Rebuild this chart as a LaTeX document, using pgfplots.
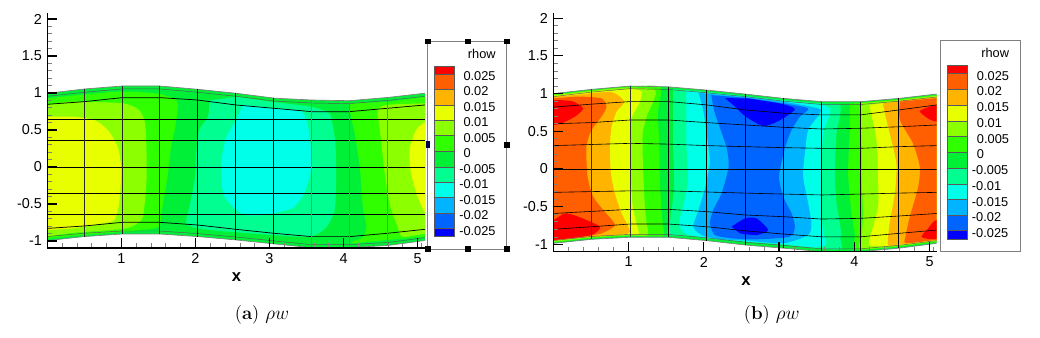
\documentclass[border=0pt]{standalone}
\usepackage{fontspec}
\setsansfont{Liberation Sans}
\usepackage{pgfplots}
\pgfplotsset{compat=1.18}
\definecolor{c1}{HTML}{FF0000}
\definecolor{c2}{HTML}{FF5F00}
\definecolor{c3}{HTML}{FFB400}
\definecolor{c4}{HTML}{E8FF00}
\definecolor{c5}{HTML}{8CFF00}
\definecolor{c6}{HTML}{30FF00}
\definecolor{c7}{HTML}{00F038}
\definecolor{c8}{HTML}{00FF90}
\definecolor{c9}{HTML}{00FFE8}
\definecolor{c10}{HTML}{00B4FF}
\definecolor{c11}{HTML}{0064FF}
\definecolor{c12}{HTML}{0000FF}
\pgfplotsset{
  band/.style={fill=#1,draw=none,smooth,tension=0.4,forget plot},
  mask/.style={fill=white,draw=none,forget plot},
  hline/.style={black,line width=0.55pt,forget plot},
  rim/.style={black!65,line width=0.35pt,forget plot},
  wall/.style={gray,line width=0.5pt,forget plot},
  panel/.style={
    scale only axis,axis on top,anchor=south west,clip=true,
    axis x line*=bottom,axis y line*=left,axis line style={-,line width=1.2pt},
    tick align=inside,major tick length=7.5pt,minor tick length=3.75pt,
    major tick style={black,line width=0.9pt},
    minor tick style={gray,line width=0.5pt},
    xtick={1,2,3,4,5},xticklabels={1,2,3,4,5},
    ytick={-1,-0.5,0,0.5,1,1.5,2},yticklabels={-1,-0.5,0,0.5,1,1.5,2},
    minor xtick={0.2,0.4,0.6,0.8,1.2,1.4,1.6,1.8,2.2,2.4,2.6,2.8,3.2,3.4,3.6,3.8,4.2,4.4,4.6,4.8,5.05},
    minor ytick={-0.9,-0.8,-0.7,-0.6,-0.4,-0.3,-0.2,-0.1,0.1,0.2,0.3,0.4,0.6,0.7,0.8,0.9,1.1,1.2,1.3,1.4,1.6,1.7,1.8,1.9},
    tick label style={font=\sffamily\fontsize{10.8pt}{12pt}\selectfont,black},
    xticklabel style={yshift=-0.5pt},
    yticklabel style={xshift=-0.5pt},
    xlabel={\fontsize{12.5pt}{14pt}\selectfont\sffamily\bfseries x},
  },
}
\begin{document}
\begin{tikzpicture}
\path (0,0) rectangle (780pt,253.5pt);
%% ---------------- panel (a)
\begin{axis}[panel,at={(35.475pt,67.275pt)},width=283.3pt,height=176.7pt,
  xmin=0,xmax=5.1,ymin=-1.0986,ymax=2.085,
  every axis x label/.style={at={(axis description cs:0.501,-0.122)},anchor=center}]
% base: the whole channel
\addplot[fill=c7,draw=none,forget plot] coordinates {(-0.2,0.996)(0,0.996)(0.5,1.054)(1.02,1.095)(1.51,1.095)(2.03,1.05)(2.55,0.996)(3.07,0.93)(3.57,0.905)(4.08,0.896)(4.6,0.94)(5.09,0.996)(5.4,0.996)(5.4,-0.995)(5.09,-0.995)(4.6,-1.06)(4.08,-1.09)(3.57,-1.09)(3.07,-1.04)(2.55,-0.986)(2.03,-0.94)(1.51,-0.905)(1.02,-0.905)(0.5,-0.94)(0,-0.995)(-0.2,-0.995)} --cycle;
% left 30FF00
\addplot[band=c6] coordinates {(-0.2,0.93)(0,0.93)(0.5,0.98)(1,1.02)(1.5,0.99)(1.74,0.906)(1.76,0.77)(1.72,0.5)(1.67,0.275)(1.63,-0.085)(1.54,-0.626)(1.51,-0.806)(1.3,-0.85)(1.02,-0.875)(0.34,-0.93)(0,-0.97)(-0.2,-0.98)} --cycle;
% left lime
\addplot[band=c5] coordinates {(-0.2,0.84)(0,0.84)(0.34,0.88)(1.02,0.86)(1.24,0.77)(1.32,0.59)(1.34,0.19)(1.34,-0.175)(1.31,-0.536)(1.27,-0.716)(1.06,-0.83)(0.34,-0.89)(0,-0.94)(-0.2,-0.96)} --cycle;
% left yellow
\addplot[band=c4] coordinates {(-0.2,0.68)(0,0.68)(0.34,0.68)(0.635,0.635)(0.815,0.5)(0.95,0.275)(1,-0.04)(0.97,-0.49)(0.906,-0.716)(0.75,-0.76)(0.34,-0.83)(0.03,-0.85)(-0.2,-0.85)} --cycle;
% centre spring
\addplot[band=c8] coordinates {(2.19,0.9)(2.17,0.68)(2.05,0.5)(2.01,0.19)(1.99,-0.175)(1.92,-0.536)(1.88,-0.76)(2.1,-0.84)(3.04,-0.92)(3.56,-0.94)(3.77,-0.81)(3.88,-0.58)(3.9,-0.175)(3.89,0.32)(3.83,0.68)(3.77,0.75)(3.56,0.815)(3.04,0.88)(2.55,0.95)} --cycle;
% centre cyan
\addplot[band=c9] coordinates {(2.64,0.84)(2.55,0.635)(2.42,0.41)(2.35,0.095)(2.35,-0.175)(2.39,-0.4)(2.55,-0.58)(2.68,-0.65)(2.91,-0.65)(3.3,-0.56)(3.47,-0.355)(3.56,-0.04)(3.56,0.23)(3.52,0.545)(3.43,0.75)(3.04,0.79)} --cycle;
% right 30FF00
\addplot[band=c6] coordinates {(4.08,0.86)(4.08,0.77)(4.15,0.455)(4.22,0)(4.26,-0.536)(4.31,-0.81)(4.26,-0.95)(4.1,-1.03)(4.6,-0.985)(5.12,-0.94)(5.4,-0.94)(5.4,0.95)(5.12,0.95)(4.6,0.88)} --cycle;
% right lime
\addplot[band=c5] coordinates {(5.4,0.86)(5.09,0.86)(4.6,0.84)(4.46,0.77)(4.49,0.5)(4.55,-0.04)(4.62,-0.49)(4.73,-0.81)(4.8,-0.94)(5.12,-0.9)(5.4,-0.9)} --cycle;
% right yellow
\addplot[band=c4] coordinates {(5.4,0.61)(5.12,0.61)(4.98,0.5)(4.89,0.23)(4.91,-0.085)(5,-0.4)(5.12,-0.63)(5.4,-0.63)} --cycle;
\addplot[wall] coordinates {(0,0.996)(0.5,1.054)(1.02,1.095)(1.51,1.095)(2.03,1.05)(2.55,0.996)(3.07,0.93)(3.57,0.905)(4.08,0.896)(4.6,0.94)(5.09,0.996)(5.1,0.996)};
\addplot[wall] coordinates {(0,-0.995)(0.5,-0.94)(1.02,-0.905)(1.51,-0.905)(2.03,-0.94)(2.55,-0.986)(3.07,-1.04)(3.57,-1.09)(4.08,-1.09)(4.6,-1.06)(5.09,-0.995)(5.1,-0.995)};
% mesh: along the channel
\addplot[rim] coordinates {(0,0.955)(0.5,1.01)(1.02,1.055)(1.51,1.055)(2.03,1.01)(2.55,0.955)(3.07,0.89)(3.57,0.865)(4.08,0.856)(4.6,0.9)(5.1,0.955)};
\addplot[hline] coordinates {(0,0.847)(0.5,0.883)(1.01,0.937)(1.52,0.937)(2.03,0.905)(2.545,0.838)(3.06,0.793)(3.57,0.748)(4.08,0.748)(4.59,0.793)(5.1,0.838)};
\addplot[hline,line width=0.45pt] coordinates {(0,0.644)(5.1,0.644)};
\addplot[hline,line width=0.7pt] coordinates {(0,0.36)(5.1,0.36)};
\addplot[hline,line width=0.7pt] coordinates {(0,0)(5.1,0)};
\addplot[hline,line width=0.7pt] coordinates {(0,-0.36)(5.1,-0.36)};
\addplot[hline,line width=0.7pt] coordinates {(0,-0.64)(5.1,-0.64)};
\addplot[hline] coordinates {(0,-0.83)(0.5,-0.797)(1.01,-0.748)(1.52,-0.748)(2.03,-0.784)(2.545,-0.842)(3.06,-0.896)(3.57,-0.941)(4.08,-0.941)(4.59,-0.896)(5.1,-0.842)};
\addplot[rim] coordinates {(0,-0.94)(0.5,-0.895)(1.02,-0.865)(1.51,-0.865)(2.03,-0.9)(2.55,-0.946)(3.07,-1)(3.57,-1.05)(4.08,-1.05)(4.6,-1.02)(5.1,-0.955)};
% mesh: across the channel
\addplot[hline,line width=0.7pt,black!85] coordinates {(0.5,1.054)(0.5,-0.94)};
\addplot[hline,line width=0.7pt,black!85] coordinates {(1.01,1.09)(1.01,-0.905)};
\addplot[hline,line width=0.7pt,black!85] coordinates {(1.52,1.095)(1.52,-0.905)};
\addplot[hline,line width=0.7pt] coordinates {(2.03,1.05)(2.03,-0.94)};
\addplot[hline,line width=0.7pt] coordinates {(2.545,0.996)(2.545,-0.986)};
\addplot[hline,line width=0.7pt] coordinates {(3.06,0.93)(3.06,-1.04)};
\addplot[hline,line width=0.9pt,gray] coordinates {(3.57,0.905)(3.57,-1.09)};
\addplot[hline,line width=0.9pt,gray] coordinates {(4.08,0.896)(4.08,-1.09)};
\addplot[hline,line width=0.9pt,gray] coordinates {(4.59,0.94)(4.59,-1.06)};
\end{axis}
%% ---------------- panel (b)
\begin{axis}[panel,at={(414.975pt,64.725pt)},width=287.55pt,height=179.25pt,
  xmin=0,xmax=5.095,ymin=-1.097,ymax=2.073,
  every axis x label/.style={at={(axis description cs:0.5026,-0.1226)},anchor=center}]
\addplot[fill=c7,draw=none,forget plot] coordinates {(-0.2,1.0)(0,1.0)(0.508,1.056)(1.017,1.1)(1.527,1.09)(2.036,1.047)(2.546,0.994)(3.055,0.937)(3.573,0.893)(4.08,0.893)(4.6,0.937)(5.09,0.994)(5.4,0.994)(5.4,-0.986)(5.09,-0.986)(4.6,-1.05)(4.08,-1.097)(3.573,-1.097)(3.055,-1.05)(2.546,-1.008)(2.036,-0.95)(1.527,-0.906)(1.017,-0.906)(0.508,-0.933)(0,-0.986)(-0.2,-0.986)} --cycle;
% left stack
\addplot[band=c6] coordinates {(-0.2,0.99)(0,0.99)(0.5,1.045)(1,1.09)(1.42,1.085)(1.39,0.74)(1.41,0.296)(1.416,-0.146)(1.44,-0.588)(1.46,-0.765)(1.45,-0.89)(1,-0.89)(0.5,-0.92)(0,-0.975)(-0.2,-0.98)} --cycle;
\addplot[band=c5] coordinates {(-0.2,0.98)(0,0.98)(0.5,1.036)(1,1.08)(1.35,1.05)(1.33,0.9)(1.25,0.72)(1.19,0.5)(1.186,0.296)(1.195,-0.058)(1.217,-0.5)(1.24,-0.72)(1.25,-0.88)(1,-0.88)(0.5,-0.91)(0,-0.965)(-0.2,-0.97)} --cycle;
\addplot[band=c4] coordinates {(-0.2,0.97)(0,0.97)(0.5,1.026)(1,1.06)(1.17,1.03)(1.15,0.89)(1.03,0.65)(1.017,0.296)(1.03,-0.058)(1.05,-0.456)(1.083,-0.633)(1.128,-0.81)(1.13,-0.87)(1,-0.87)(0.5,-0.9)(0,-0.955)(-0.2,-0.96)} --cycle;
\addplot[band=c3] coordinates {(-0.2,0.96)(0,0.96)(0.33,0.985)(0.774,1.02)(0.942,0.893)(0.84,0.76)(0.774,0.561)(0.752,0.296)(0.765,-0.058)(0.818,-0.323)(0.906,-0.588)(0.995,-0.765)(0.98,-0.86)(0.33,-0.915)(0,-0.95)(-0.2,-0.95)} --cycle;
\addplot[band=c2] coordinates {(-0.2,0.937)(0,0.937)(0.33,0.96)(0.64,0.937)(0.707,0.826)(0.64,0.694)(0.508,0.517)(0.44,0.296)(0.455,-0.1)(0.53,-0.367)(0.663,-0.544)(0.82,-0.743)(0.64,-0.854)(0.33,-0.91)(0,-0.945)(-0.2,-0.945)} --cycle;
\addplot[band=c1] coordinates {(-0.2,0.915)(0,0.915)(0.25,0.9)(0.397,0.804)(0.287,0.694)(0.11,0.605)(0,0.583)(-0.2,0.583)} --cycle;
\addplot[band=c1] coordinates {(-0.2,-0.677)(0,-0.677)(0.154,-0.588)(0.33,-0.632)(0.62,-0.765)(0.508,-0.876)(0.154,-0.925)(0,-0.94)(-0.2,-0.94)} --cycle;
% centre stack
\addplot[band=c8] coordinates {(1.593,1.06)(1.593,0.296)(1.607,-0.146)(1.593,-0.367)(1.55,-0.72)(1.54,-0.875)(2.04,-0.91)(2.55,-0.97)(3.06,-1.01)(3.57,-1.06)(3.83,-1.06)(3.808,-0.9)(3.83,-0.898)(3.808,-0.72)(3.764,-0.456)(3.74,-0.058)(3.764,0.473)(3.808,0.694)(3.808,0.85)(3.57,0.87)(3.06,0.915)(2.55,0.97)(2.04,1.025)} --cycle;
\addplot[band=c9] coordinates {(1.77,1.04)(1.77,0.74)(1.77,0.296)(1.79,-0.146)(1.726,-0.5)(1.67,-0.72)(1.75,-0.854)(2.04,-0.92)(2.55,-0.96)(3.06,-1)(3.5,-1.04)(3.63,-0.986)(3.586,-0.854)(3.564,-0.588)(3.564,-0.058)(3.586,0.473)(3.675,0.716)(3.675,0.804)(3.542,0.855)(3.06,0.905)(2.55,0.96)(2.04,1.01)} --cycle;
\addplot[band=c10] coordinates {(1.93,1.01)(2,0.74)(2.06,0.296)(2.08,0.07)(2.01,-0.28)(1.93,-0.544)(1.86,-0.765)(1.97,-0.876)(2.2,-0.93)(2.57,-0.95)(3.055,-0.986)(3.387,-0.876)(3.43,-0.72)(3.387,-0.456)(3.32,-0.1)(3.343,0.207)(3.387,0.517)(3.542,0.738)(3.52,0.804)(3.055,0.893)(2.57,0.95)} --cycle;
\addplot[band=c11] coordinates {(2.1,0.98)(2.147,0.74)(2.3,0.296)(2.33,0.03)(2.236,-0.323)(2.125,-0.544)(2.08,-0.72)(2.147,-0.876)(2.37,-0.92)(2.7,-0.933)(3.143,-0.898)(3.21,-0.765)(3.166,-0.588)(3.055,-0.367)(3,-0.1)(3.077,0.274)(3.166,0.517)(3.276,0.694)(3.387,0.804)(3.055,0.87)(2.55,0.945)} --cycle;
\addplot[band=c12] coordinates {(2.28,0.94)(2.4,0.84)(2.55,0.7)(2.79,0.57)(3,0.64)(3.21,0.79)(3.05,0.86)(2.6,0.935)} --cycle;
\addplot[band=c12] coordinates {(2.37,-0.765)(2.55,-0.655)(2.7,-0.655)(2.855,-0.81)(2.7,-0.876)(2.48,-0.854)} --cycle;
% right stack
\addplot[band=c6] coordinates {(3.94,0.87)(3.94,0.517)(3.918,-0.058)(3.963,-0.588)(4.007,-0.854)(4.03,-1.07)(4.6,-1.03)(5.09,-0.97)(5.4,-0.97)(5.4,0.98)(5.09,0.98)(4.6,0.925)(4.08,0.88)} --cycle;
\addplot[band=c5] coordinates {(4.08,0.87)(4.096,0.296)(4.096,-0.146)(4.118,-0.588)(4.096,-0.898)(4.08,-1.06)(4.6,-1.02)(5.09,-0.96)(5.4,-0.96)(5.4,0.97)(5.09,0.97)(4.6,0.915)} --cycle;
\addplot[band=c4] coordinates {(4.207,0.85)(4.21,0.8)(4.295,0.384)(4.317,-0.146)(4.317,-0.5)(4.25,-0.765)(4.207,-1.01)(4.6,-1.01)(5.09,-0.95)(5.4,-0.95)(5.4,0.96)(5.09,0.96)(4.6,0.905)} --cycle;
\addplot[band=c3] coordinates {(4.38,0.87)(4.406,0.738)(4.47,0.473)(4.56,0.07)(4.54,-0.323)(4.47,-0.72)(4.45,-1.01)(4.6,-1)(5.09,-0.945)(5.4,-0.945)(5.4,0.95)(5.09,0.95)(4.6,0.9)} --cycle;
\addplot[band=c2] coordinates {(4.605,0.893)(4.605,0.65)(4.78,0.34)(4.87,0.03)(4.85,-0.235)(4.738,-0.633)(4.68,-0.898)(4.69,-0.986)(5.09,-0.94)(5.4,-0.94)(5.4,0.94)(5.09,0.94)} --cycle;
\addplot[band=c1] coordinates {(5.4,0.85)(5.09,0.85)(4.937,0.804)(4.87,0.76)(4.98,0.67)(5.09,0.627)(5.4,0.627)} --cycle;
\addplot[band=c1] coordinates {(5.4,-0.677)(5.09,-0.677)(4.98,-0.79)(4.893,-0.898)(5,-0.93)(5.09,-0.93)(5.4,-0.93)} --cycle;
\addplot[wall] coordinates {(0,1.0)(0.508,1.056)(1.017,1.1)(1.527,1.09)(2.036,1.047)(2.546,0.994)(3.055,0.937)(3.573,0.893)(4.08,0.893)(4.6,0.937)(5.09,0.994)(5.095,0.994)};
\addplot[wall] coordinates {(0,-0.986)(0.508,-0.933)(1.017,-0.906)(1.527,-0.906)(2.036,-0.95)(2.546,-1.008)(3.055,-1.05)(3.573,-1.097)(4.08,-1.097)(4.6,-1.05)(5.09,-0.986)(5.095,-0.986)};
% mesh
\addplot[rim] coordinates {(0,0.96)(0.508,1.02)(1.017,1.065)(1.527,1.055)(2.036,1.01)(2.546,0.96)(3.055,0.9)(3.573,0.855)(4.08,0.855)(4.6,0.9)(5.095,0.955)};
\addplot[hline,line width=0.45pt] coordinates {(0,0.82)(0.508,0.86)(1.022,0.894)(1.527,0.894)(2.04,0.85)(2.55,0.783)(3.06,0.74)(3.57,0.717)(4.08,0.717)(4.59,0.783)(5.095,0.85)};
\addplot[hline,line width=0.45pt] coordinates {(0,0.6)(0.508,0.615)(1.022,0.65)(1.527,0.65)(2.04,0.615)(2.55,0.584)(3.06,0.553)(3.57,0.53)(4.08,0.54)(4.59,0.56)(5.095,0.584)};
\addplot[hline,line width=0.45pt] coordinates {(0,0.31)(1.022,0.34)(1.527,0.33)(2.04,0.31)(2.55,0.296)(3.06,0.283)(3.57,0.274)(4.08,0.274)(4.59,0.296)(5.095,0.31)};
\addplot[hline,line width=0.6pt] coordinates {(0,0)(5.095,0)};
\addplot[hline,line width=0.45pt] coordinates {(0,-0.31)(1.022,-0.29)(1.527,-0.29)(2.55,-0.32)(3.57,-0.345)(4.59,-0.32)(5.095,-0.31)};
\addplot[hline,line width=0.45pt] coordinates {(0,-0.59)(1.022,-0.535)(1.527,-0.535)(2.04,-0.566)(2.55,-0.61)(3.06,-0.633)(3.57,-0.664)(4.08,-0.655)(4.59,-0.624)(5.095,-0.59)};
\addplot[hline,line width=0.45pt] coordinates {(0,-0.8)(0.508,-0.766)(1.022,-0.73)(1.527,-0.73)(2.04,-0.766)(2.55,-0.82)(3.06,-0.863)(3.57,-0.9)(4.08,-0.9)(4.59,-0.854)(5.095,-0.81)};
\addplot[rim] coordinates {(0,-0.95)(0.508,-0.895)(1.017,-0.868)(1.527,-0.868)(2.036,-0.912)(2.546,-0.97)(3.055,-1.012)(3.573,-1.06)(4.08,-1.06)(4.6,-1.012)(5.095,-0.95)};
\addplot[hline,line width=0.45pt,black!80] coordinates {(0.508,1.056)(0.508,-0.933)};
\addplot[hline,line width=0.45pt,black!80] coordinates {(1.022,1.1)(1.022,-0.906)};
\addplot[hline,line width=0.7pt] coordinates {(1.527,1.09)(1.527,-0.906)};
\addplot[hline,line width=0.55pt] coordinates {(2.04,1.047)(2.04,-0.95)};
\addplot[hline,line width=0.7pt] coordinates {(2.55,0.994)(2.55,-1.008)};
\addplot[hline,line width=0.55pt] coordinates {(3.06,0.937)(3.06,-1.05)};
\addplot[hline,line width=0.7pt] coordinates {(3.57,0.893)(3.57,-1.097)};
\addplot[hline,line width=0.7pt] coordinates {(4.08,0.893)(4.08,-1.097)};
\addplot[hline,line width=0.55pt] coordinates {(4.59,0.937)(4.59,-1.05)};
\end{axis}
%% ---------------- legends and captions, in reference pixels
\begin{scope}[x=0.75pt,y=-0.75pt,yshift=253.5pt]
 \def\lab{\sffamily\fontsize{9.6pt}{11pt}\selectfont}
 % legend (a)
 \draw[gray,line width=0.6pt] (427.7,41.7) rectangle (506.7,249);
 \foreach \hx/\hy in {427.7/41.7,467.7/41.7,506.7/41.7,506.7/145,427.7/249,467.7/249,506.7/249}
   \fill[black] (\hx-3.2,\hy-2.8) rectangle (\hx+3.2,\hy+2.8);
 \fill[black!70!blue] (425.5,141.5) rectangle (429.8,148.5);
 \foreach \a/\b/\c in {66.7/74.3/c1,74.3/89.7/c2,89.7/105/c3,105/120.3/c4,120.3/135.7/c5,135.7/151.7/c6,151.7/167/c7,167/182.3/c8,182.3/197.7/c9,197.7/213/c10,213/228.3/c11,228.3/236.7/c12}
   \filldraw[fill=\c,draw=black!65,line width=0.35pt] (434.3,\a) rectangle (454.3,\b);
 \node[anchor=west,inner sep=0pt,font=\lab] at (467.7,54) {rhow};
 \foreach \t/\y in {0.025/76,0.02/91.3,0.015/107,0.01/122.3,0.005/137.7,0/153.3}
   \node[anchor=west,inner sep=0pt,font=\lab] at (463.3,\y) {\t};
 \foreach \t/\y in {-0.005/169,-0.01/184.3,-0.015/200,-0.02/215.3,-0.025/231}
   \node[anchor=west,inner sep=0pt,font=\lab] at (459,\y) {\t};
 % legend (b)
 \draw[gray,line width=0.6pt] (940.3,40.7) rectangle (1020.7,251.7);
 \foreach \a/\b/\c in {65.7/73.7/c1,73.7/89.7/c2,89.7/105.3/c3,105.3/121/c4,121/136.7/c5,136.7/152.3/c6,152.3/168/c7,168/184/c8,184/199.7/c9,199.7/215.3/c10,215.3/230.7/c11,230.7/239.3/c12}
   \filldraw[fill=\c,draw=black!65,line width=0.35pt] (947,\a) rectangle (967.3,\b);
 \node[anchor=west,inner sep=0pt,font=\lab] at (981,53.3) {rhow};
 \foreach \t/\y in {0.025/76,0.02/91.3,0.015/107,0.01/123,0.005/138.7,0/154}
   \node[anchor=west,inner sep=0pt,font=\lab] at (976.7,\y) {\t};
 \foreach \t/\y in {-0.005/170,-0.01/185.7,-0.015/201.7,-0.02/217.3,-0.025/232.7}
   \node[anchor=west,inner sep=0pt,font=\lab] at (971.7,\y) {\t};
 % captions
 \node[font=\fontsize{14pt}{16pt}\selectfont] at (262,315) {(\textbf{a}) $\rho w$};
 \node[font=\fontsize{14pt}{16pt}\selectfont] at (771.7,315) {(\textbf{b}) $\rho w$};
\end{scope}
\end{tikzpicture}
\end{document}
